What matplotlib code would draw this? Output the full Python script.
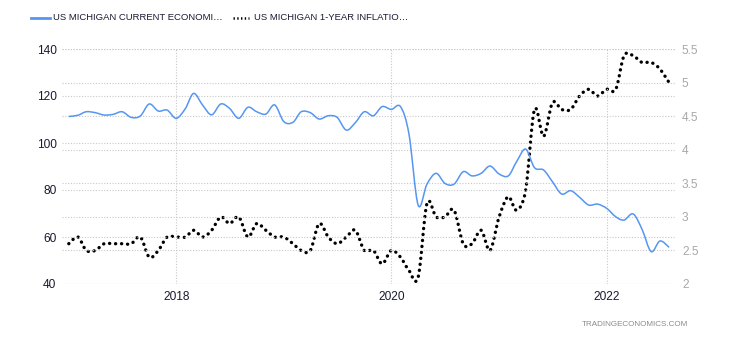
import numpy as np
import pandas as pd
import matplotlib
matplotlib.use("Agg")
import matplotlib.pyplot as plt
import matplotlib.dates as mdates
from matplotlib.path import Path
from matplotlib.patches import PathPatch
from matplotlib.lines import Line2D

plt.rcParams['font.family'] = ['Liberation Sans', 'DejaVu Sans']

# Monthly observations, Jan 2017 - Aug 2022
months = pd.date_range('2017-01-01', '2022-08-01', freq='MS')

current_conditions = [
    111.3, 111.8, 113.3, 112.9, 111.9, 112.2, 113.3, 110.9, 111.5, 116.6, 113.6, 114.0,   # 2017
    110.5, 114.7, 121.1, 116.0, 112.0, 116.6, 114.7, 110.5, 115.2, 113.3, 112.3, 116.2,   # 2018
    109.1, 108.8, 113.3, 112.9, 110.2, 111.6, 110.9, 105.5, 108.7, 113.3, 111.6, 115.5,   # 2019
    114.3, 115.5, 103.7, 73.6, 82.5, 87.1, 82.8, 82.5, 87.8, 86.0, 87.1, 90.2,            # 2020
    86.8, 86.0, 92.0, 97.4, 89.5, 88.5, 83.5, 78.3, 79.7, 76.9, 73.6, 74.0,               # 2021
    72.2, 68.6, 67.2, 69.8, 63.3, 53.8, 58.3, 55.6,                                       # 2022
]

inflation_1y = [
    2.6, 2.7, 2.5, 2.5, 2.6, 2.6, 2.6, 2.6, 2.7, 2.4, 2.5, 2.7,   # 2017
    2.7, 2.7, 2.8, 2.7, 2.8, 3.0, 2.9, 3.0, 2.7, 2.9, 2.8, 2.7,   # 2018
    2.7, 2.6, 2.5, 2.5, 2.9, 2.7, 2.6, 2.7, 2.8, 2.5, 2.5, 2.3,   # 2019
    2.5, 2.4, 2.2, 2.1, 3.2, 3.0, 3.0, 3.1, 2.6, 2.6, 2.8, 2.5,   # 2020
    3.0, 3.3, 3.1, 3.4, 4.6, 4.2, 4.7, 4.6, 4.6, 4.8, 4.9, 4.8,   # 2021
    4.9, 4.9, 5.4, 5.4, 5.3, 5.3, 5.2, 5.0,                       # 2022
]

left_ticks = [40, 60, 80, 100, 120, 140]
right_ticks = [2, 2.5, 3, 3.5, 4, 4.5, 5, 5.5]
right_labels = ['2', '2.5', '3', '3.5', '4', '4.5', '5', '5.5']
year_ticks = ['2018', '2020', '2022']

label_current = 'US MICHIGAN CURRENT ECONOMI\u2026'
label_inflation = 'US MICHIGAN 1-YEAR INFLATIO\u2026'

BLUE = '#5596f2'
GRID = '#c8c8c8'


def smooth_path(x, y):
    """Catmull-Rom curve through the points, expressed as cubic Bezier segments."""
    x = np.asarray(x, float)
    y = np.asarray(y, float)
    pts = np.column_stack([x, y])
    ext = np.vstack([pts[0], pts, pts[-1]])
    verts = [pts[0]]
    codes = [Path.MOVETO]
    for i in range(len(pts) - 1):
        p0, p1, p2, p3 = ext[i], ext[i + 1], ext[i + 2], ext[i + 3]
        c1 = p1 + (p2 - p0) / 6.0
        c2 = p2 - (p3 - p1) / 6.0
        verts += [c1, c2, p2]
        codes += [Path.CURVE4] * 3
    return Path(verts, codes)


fig = plt.figure(figsize=(7.3, 3.4), dpi=100)
ax = fig.add_axes([62 / 730, 56 / 340, 613 / 730, 235 / 340])
ax2 = ax.twinx()

# right axis underneath, left axis on top
ax.set_zorder(ax2.get_zorder() + 1)
ax.patch.set_visible(False)

xnum = mdates.date2num(months)

blue = PathPatch(smooth_path(xnum, current_conditions), facecolor='none',
                 edgecolor=BLUE, linewidth=1.1)
ax.add_patch(blue)

dots = PathPatch(smooth_path(xnum, inflation_1y), facecolor='none',
                 edgecolor='black', linewidth=2.4, linestyle=(0, (0.05, 1.75)),
                 capstyle='round')
ax2.add_patch(dots)

x0 = mdates.date2num(pd.Timestamp('2016-12-09'))
x1 = mdates.date2num(pd.Timestamp('2022-08-21'))
ax.set_xlim(x0, x1)
ax.set_ylim(40, 140)
ax2.set_ylim(2, 5.5)

ax.set_yticks(left_ticks)
ax.set_yticklabels([str(t) for t in left_ticks])
ax2.set_yticks(right_ticks)
ax2.set_yticklabels(right_labels)
ax.set_xticks([mdates.date2num(pd.Timestamp(f'{y}-01-01')) for y in year_ticks])
ax.set_xticklabels(year_ticks)

for a in (ax, ax2):
    for s in a.spines.values():
        s.set_visible(False)
    a.tick_params(length=0)

ax.tick_params(axis='y', labelsize=8.6, labelcolor='#1a1a33', pad=4)
ax.tick_params(axis='x', labelsize=8.6, labelcolor='#1a1a33', pad=5)
ax2.tick_params(axis='y', labelsize=8.6, labelcolor='#a8a8a8', pad=5)

ax.set_axisbelow(True)
ax.grid(True, axis='both', color=GRID, linestyle=(0, (1, 1.5)), linewidth=0.8)
ax2.grid(True, axis='y', color=GRID, linestyle=(0, (1, 1.5)), linewidth=0.8)
ax2.set_xlim(x0, x1)

# legend
fig.add_artist(Line2D([31, 50], [340 - 17.5, 340 - 17.5], transform=None,
                      color=BLUE, linewidth=2.0))
fig.text(53 / 730, 1 - 17.5 / 340, label_current, fontsize=6.8, color='#1a1a33',
         va='center', ha='left')
fig.add_artist(Line2D([233, 249], [340 - 17.5, 340 - 17.5], transform=None,
                      color='black', linewidth=1.8, linestyle=(0, (0.55, 0.95))))
fig.text(254 / 730, 1 - 17.5 / 340, label_inflation, fontsize=6.8, color='#1a1a33',
         va='center', ha='left')

fig.text(688 / 730, 1 - 324 / 340, 'TRADINGECONOMICS.COM', fontsize=5.8,
         color='#8a8a8a', ha='right', va='center')

fig.savefig('out.png', dpi=100)
